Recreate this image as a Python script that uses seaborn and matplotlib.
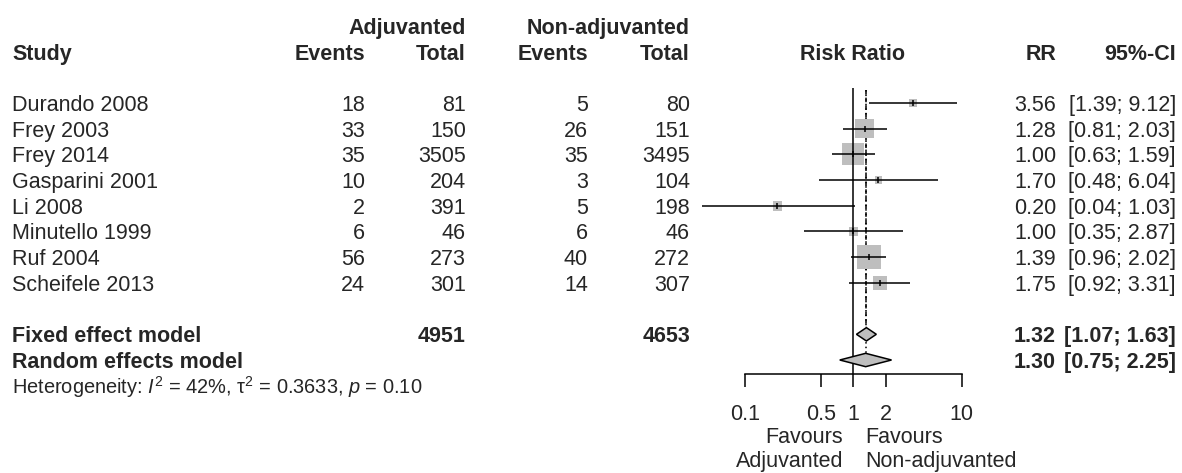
import numpy as np
import pandas as pd
import matplotlib
matplotlib.use("Agg")
import matplotlib.pyplot as plt
import seaborn as sns

# data
studies = ["Durando 2008", "Frey 2003", "Frey 2014", "Gasparini 2001",
           "Li 2008", "Minutello 1999", "Ruf 2004", "Scheifele 2013"]
ev_adj = [18, 33, 35, 10, 2, 6, 56, 24]
n_adj = [81, 150, 3505, 204, 391, 46, 273, 301]
ev_non = [5, 26, 35, 3, 5, 6, 40, 14]
n_non = [80, 151, 3495, 104, 198, 46, 272, 307]
rr = [3.56, 1.28, 1.00, 1.70, 0.20, 1.00, 1.39, 1.75]
ci_lo = [1.39, 0.81, 0.63, 0.48, 0.04, 0.35, 0.96, 0.92]
ci_hi = [9.12, 2.03, 1.59, 6.04, 1.03, 2.87, 2.02, 3.31]
weight = [3.7, 19.0, 25.6, 2.9, 4.9, 4.4, 29.3, 10.2]  # % (fixed effect)

pooled_names = ["Fixed effect model", "Random effects model"]
pooled_rr = [1.32, 1.30]
pooled_lo = [1.07, 0.75]
pooled_hi = [1.63, 2.25]
total_adj = 4951
total_non = 4653
het_text = r"Heterogeneity: $I^2$ = 42%, τ$^2$ = 0.3633, $p$ = 0.10"

xticks = [0.1, 0.5, 1, 2, 10]
xtick_labels = ["0.1", "0.5", "1", "2", "10"]

df = pd.DataFrame({"study": studies, "rr": rr, "lo": ci_lo, "hi": ci_hi,
                   "w": weight, "row": np.arange(len(studies))})

sns.set_theme(style="white")
plt.rcParams["font.family"] = ["Liberation Sans", "DejaVu Sans"]
plt.rcParams["mathtext.fontset"] = "custom"
plt.rcParams["mathtext.rm"] = "Liberation Sans"
plt.rcParams["mathtext.it"] = "Liberation Sans:italic"

W, H = 1182, 473
fig = plt.figure(figsize=(W / 100, H / 100), dpi=100)
fig.patch.set_facecolor("white")

row0, rowh = 103, 25.7  # pixel centre of first row, row spacing


def px2row(p):
    return (p - row0) / rowh


# text layer over whole figure
tx = fig.add_axes([0, 0, 1, 1])
tx.set_xlim(0, W)
tx.set_ylim(px2row(H), px2row(0))
tx.axis("off")

fs = 15.5
va = "center_baseline"
c_study, c_ea, c_na, c_en, c_nn, c_rr, c_ci = 12, 365, 466, 588, 690, 1056, 1176

# headers
tx.text(c_na, -3, "Adjuvanted", ha="right", va=va, fontsize=fs, fontweight="bold")
tx.text(c_nn, -3, "Non-adjuvanted", ha="right", va=va, fontsize=fs, fontweight="bold")
for x, lab, ha in [(c_study, "Study", "left"), (c_ea, "Events", "right"),
                   (c_na, "Total", "right"), (c_en, "Events", "right"),
                   (c_nn, "Total", "right"), (853, "Risk Ratio", "center"),
                   (c_rr, "RR", "right"), (c_ci, "95%-CI", "right")]:
    tx.text(x, -2, lab, ha=ha, va=va, fontsize=fs, fontweight="bold")

# study rows
for i in range(len(studies)):
    tx.text(c_study, i, studies[i], ha="left", va=va, fontsize=fs)
    tx.text(c_ea, i, str(ev_adj[i]), ha="right", va=va, fontsize=fs)
    tx.text(c_na, i, str(n_adj[i]), ha="right", va=va, fontsize=fs)
    tx.text(c_en, i, str(ev_non[i]), ha="right", va=va, fontsize=fs)
    tx.text(c_nn, i, str(n_non[i]), ha="right", va=va, fontsize=fs)
    tx.text(c_rr, i, f"{rr[i]:.2f}", ha="right", va=va, fontsize=fs)
    tx.text(c_ci, i, f"[{ci_lo[i]:.2f}; {ci_hi[i]:.2f}]", ha="right", va=va, fontsize=fs)

# pooled rows
prow = [len(studies) + 1, len(studies) + 2]
for k in range(2):
    tx.text(c_study, prow[k], pooled_names[k], ha="left", va=va, fontsize=fs, fontweight="bold")
    tx.text(c_rr, prow[k], f"{pooled_rr[k]:.2f}", ha="right", va=va, fontsize=fs, fontweight="bold")
    tx.text(c_ci, prow[k], f"[{pooled_lo[k]:.2f}; {pooled_hi[k]:.2f}]", ha="right", va=va,
            fontsize=fs, fontweight="bold")
tx.text(c_na, prow[0], str(total_adj), ha="right", va=va, fontsize=fs, fontweight="bold")
tx.text(c_nn, prow[0], str(total_non), ha="right", va=va, fontsize=fs, fontweight="bold")
tx.text(c_study, prow[1] + 0.95, het_text, ha="left", va=va, fontsize=14.4)

# favours labels
tx.text(843, 12.92, "Favours", ha="right", va=va, fontsize=fs)
tx.text(843, 13.86, "Adjuvanted", ha="right", va=va, fontsize=fs)
tx.text(865, 12.92, "Favours", ha="left", va=va, fontsize=fs)
tx.text(865, 13.86, "Non-adjuvanted", ha="left", va=va, fontsize=fs)

# forest panel
left_px, right_px, top_px, bot_px = 690, 990, 88, 374
one_px, dec_px = 853.3, 108.5
ax = fig.add_axes([left_px / W, (H - bot_px) / H, (right_px - left_px) / W, (bot_px - top_px) / H])
ax.patch.set_alpha(0)
ax.set_xscale("log")
ax.set_xlim(10 ** ((left_px - one_px) / dec_px), 10 ** ((right_px - one_px) / dec_px))
ax.set_ylim(px2row(bot_px), px2row(top_px))

ax.axvline(1, color="black", lw=1.1, zorder=3)
ytop = px2row(top_px) + 0.08
ax.vlines(pooled_rr[0], ytop, prow[0] - 0.27, colors="black", linestyles=(0, (3, 2)), lw=1.1)
ax.vlines(pooled_rr[1], ytop, prow[1] - 0.27, colors="black", linestyles=(0, (1, 2)), lw=1.1)

sns.scatterplot(data=df, x="rr", y="row", size="w", sizes=(9.8 * min(weight), 9.8 * max(weight)),
                marker="s", color="#BEBEBE", edgecolor="none", linewidth=0, legend=False,
                ax=ax, zorder=2)
ax.hlines(df["row"], df["lo"], df["hi"], colors="black", lw=1.1, zorder=4, clip_on=False)
ax.plot(df["rr"], df["row"], linestyle="none", marker="|", markersize=5, color="black",
        markeredgewidth=1.1, zorder=5)

dh = 0.26
for k in range(2):
    xs = [pooled_lo[k], pooled_rr[k], pooled_hi[k], pooled_rr[k]]
    ys = [prow[k], prow[k] - dh, prow[k], prow[k] + dh]
    ax.fill(xs, ys, facecolor="#BEBEBE", edgecolor="black", lw=1.1, zorder=6)

for s in ["top", "left", "right"]:
    ax.spines[s].set_visible(False)
ax.spines["bottom"].set_color("black")
ax.spines["bottom"].set_linewidth(1.1)
ax.spines["bottom"].set_bounds(xticks[0], xticks[-1])
ax.set_xticks(xticks)
ax.set_xticklabels(xtick_labels)
ax.minorticks_off()
ax.tick_params(axis="x", direction="out", length=9.4, width=1.1, color="black",
               pad=12, labelsize=fs, bottom=True)
ax.set_yticks([])
ax.set_xlabel("")
ax.set_ylabel("")

fig.savefig("out.png", dpi=100, facecolor="white")
